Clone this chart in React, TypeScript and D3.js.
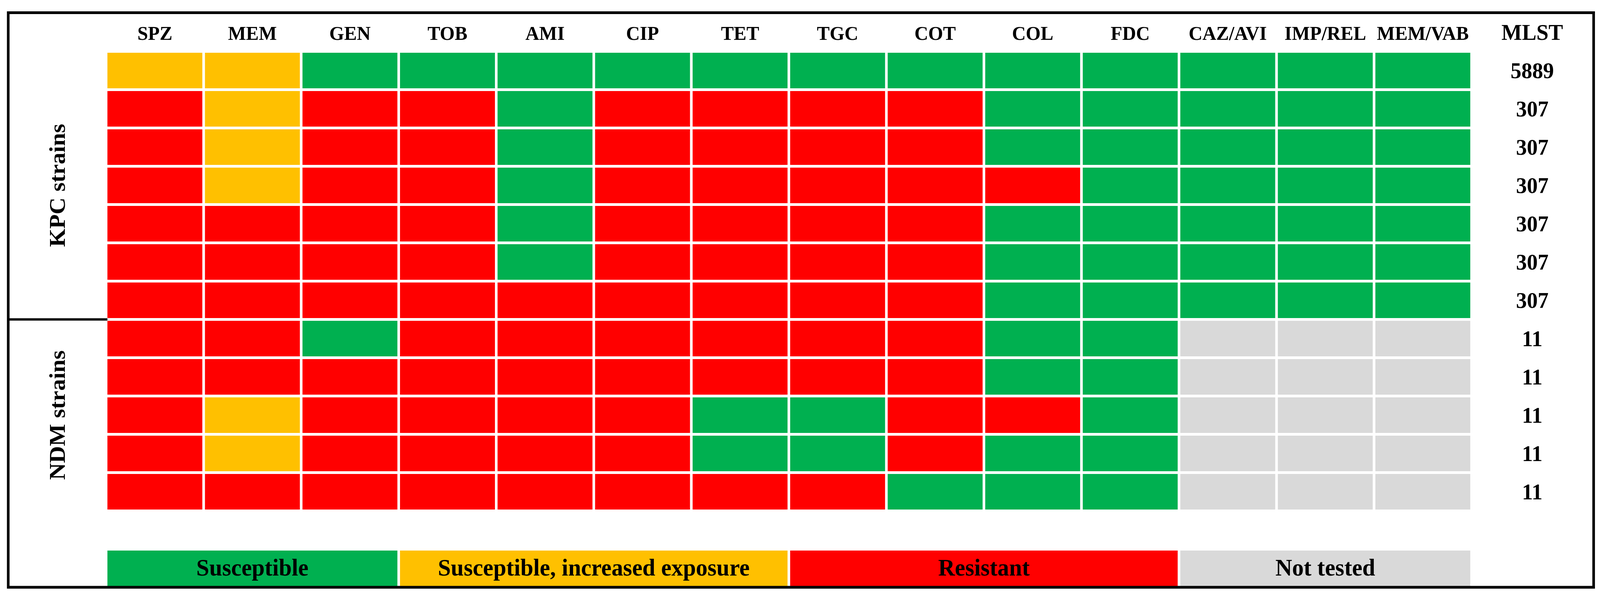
import React, { useEffect } from "react";
import * as d3 from "d3";

const antibiotics = ["SPZ", "MEM", "GEN", "TOB", "AMI", "CIP", "TET", "TGC", "COT", "COL", "FDC", "CAZ/AVI", "IMP/REL", "MEM/VAB"];
const mlstValues = ["5889", "307", "307", "307", "307", "307", "307", "11", "11", "11", "11", "11"];
// S = susceptible, I = susceptible increased exposure, R = resistant, N = not tested
const results = [
  ["I", "I", "S", "S", "S", "S", "S", "S", "S", "S", "S", "S", "S", "S"],
  ["R", "I", "R", "R", "S", "R", "R", "R", "R", "S", "S", "S", "S", "S"],
  ["R", "I", "R", "R", "S", "R", "R", "R", "R", "S", "S", "S", "S", "S"],
  ["R", "I", "R", "R", "S", "R", "R", "R", "R", "R", "S", "S", "S", "S"],
  ["R", "R", "R", "R", "S", "R", "R", "R", "R", "S", "S", "S", "S", "S"],
  ["R", "R", "R", "R", "S", "R", "R", "R", "R", "S", "S", "S", "S", "S"],
  ["R", "R", "R", "R", "R", "R", "R", "R", "R", "S", "S", "S", "S", "S"],
  ["R", "R", "S", "R", "R", "R", "R", "R", "R", "S", "S", "N", "N", "N"],
  ["R", "R", "R", "R", "R", "R", "R", "R", "R", "S", "S", "N", "N", "N"],
  ["R", "I", "R", "R", "R", "R", "S", "S", "R", "R", "S", "N", "N", "N"],
  ["R", "I", "R", "R", "R", "R", "S", "S", "R", "S", "S", "N", "N", "N"],
  ["R", "R", "R", "R", "R", "R", "R", "R", "S", "S", "S", "N", "N", "N"],
];
const groupLabels = ["KPC strains", "NDM strains"];
const groupRowCounts = [7, 5];
const legendCodes = ["S", "I", "R", "N"];
const legendLabels = ["Susceptible", "Susceptible, increased exposure", "Resistant", "Not tested"];
const legendColumnSpans = [3, 4, 4, 3];

const colorOf: Record<string, string> = {
  S: "#00B050",
  I: "#FFC000",
  R: "#FF0000",
  N: "#D9D9D9",
};

const W = 4275;
const H = 1533;
const FONT = "'Liberation Serif', 'Times New Roman', serif";

export default function App() {
  useEffect(() => {
    document.body.style.margin = "0";
    document.body.style.overflow = "hidden";
  }, []);

  const gap = 7;
  const gridLeft = 287;
  const colStep = 260.6;
  const gridTop = 135;
  const rowStep = 98;

  const x = d3
    .scaleBand<number>()
    .domain(d3.range(antibiotics.length))
    .range([gridLeft, gridLeft + colStep * antibiotics.length]);
  const y = d3
    .scaleBand<number>()
    .domain(d3.range(results.length))
    .range([gridTop, gridTop + rowStep * results.length]);

  const cw = x.bandwidth() - gap;
  const ch = y.bandwidth() - gap;

  const border = { x0: 22, y0: 32.5, x1: 4258, y1: 1503 };
  const mlstX = 4094;

  let acc = 0;
  const groups = groupLabels.map((label, i) => {
    const start = acc;
    acc += groupRowCounts[i];
    return { label, start, end: acc };
  });

  let colAcc = 0;
  const legend = legendLabels.map((label, i) => {
    const start = colAcc;
    colAcc += legendColumnSpans[i];
    const x0 = x(start)!;
    const x1 = x(colAcc - 1)! + cw;
    return { label, code: legendCodes[i], x0, x1 };
  });

  const legendTop = 1409;
  const legendBottom = 1501;

  return (
    <svg
      viewBox={`0 0 ${W} ${H}`}
      preserveAspectRatio="none"
      style={{ position: "fixed", left: 0, top: 0, width: "100%", height: "100%", display: "block", background: "#fff" }}
      fontFamily={FONT}
    >
      <rect x={0} y={0} width={W} height={H} fill="#fff" />

      {antibiotics.map((a, j) => (
        <text
          key={a}
          x={x(j)! + cw / 2}
          y={102}
          textAnchor="middle"
          fontSize={51}
          fontWeight="bold"
          fill="#000"
        >
          {a}
        </text>
      ))}
      <text x={mlstX} y={102} textAnchor="middle" fontSize={58} fontWeight="bold" fill="#000">
        MLST
      </text>

      {results.map((row, i) =>
        row.map((code, j) => (
          <rect
            key={`${i}-${j}`}
            x={x(j)}
            y={y(i)}
            width={cw}
            height={ch}
            fill={colorOf[code]}
          />
        ))
      )}

      {mlstValues.map((v, i) => (
        <text
          key={i}
          x={mlstX}
          y={y(i)! + ch / 2 + 19.5}
          textAnchor="middle"
          fontSize={58}
          fontWeight="bold"
          fill="#000"
        >
          {v}
        </text>
      ))}

      {groups.map((g) => {
        const cy = (y(g.start)! + y(g.end - 1)! + ch) / 2;
        return (
          <text
            key={g.label}
            transform={`translate(173,${cy}) rotate(-90)`}
            textAnchor="middle"
            fontSize={60}
            fontWeight="bold"
            fill="#000"
          >
            {g.label}
          </text>
        );
      })}

      {groups.slice(1).map((g) => {
        const sy = (y(g.start - 1)! + ch + y(g.start)!) / 2;
        return (
          <line
            key={g.label}
            x1={border.x0}
            x2={gridLeft}
            y1={sy}
            y2={sy}
            stroke="#000"
            strokeWidth={6}
          />
        );
      })}

      {legend.map((l) => (
        <g key={l.label}>
          <rect x={l.x0} y={legendTop} width={l.x1 - l.x0} height={legendBottom - legendTop} fill={colorOf[l.code]} />
          <text
            x={(l.x0 + l.x1) / 2}
            y={1473}
            textAnchor="middle"
            fontSize={62}
            fontWeight="bold"
            fill="#000"
          >
            {l.label}
          </text>
        </g>
      ))}

      <rect
        x={border.x0}
        y={border.y0}
        width={border.x1 - border.x0}
        height={border.y1 - border.y0}
        fill="none"
        stroke="#000"
        strokeWidth={7}
      />
    </svg>
  );
}
